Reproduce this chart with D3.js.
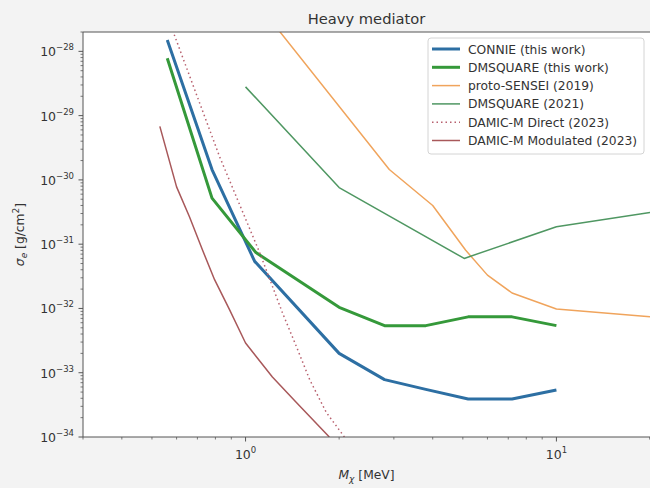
<!DOCTYPE html>
<html>
<head>
<meta charset="utf-8">
<script src="https://cdn.jsdelivr.net/npm/d3@7"></script>
<style>
  body { margin: 0; background: #f3f3f3; }
  svg { display: block; font-family: "DejaVu Sans", sans-serif; }
</style>
</head>
<body>
<div id="chart"></div>
<script>
// values (mass in MeV, cross section in g/cm^2)
const connieMass  = [0.56, 0.78, 1.07, 2.0, 2.8, 3.8, 5.2, 7.2, 10];
const connieSigma = [1.5e-28, 1.45e-30, 5.4e-32, 2.0e-33, 7.8e-34, 5.5e-34, 3.9e-34, 3.9e-34, 5.4e-34];

const dmsqMass  = [0.56, 0.78, 1.08, 2.0, 2.8, 3.8, 5.2, 7.2, 10];
const dmsqSigma = [7.8e-29, 5.2e-31, 7.4e-32, 1.04e-32, 5.4e-33, 5.4e-33, 7.4e-33, 7.4e-33, 5.4e-33];

const senseiMass  = [1.0, 2.9, 4.0, 5.1, 6.0, 7.2, 10, 20];
const senseiSigma = [9.5e-28, 1.45e-30, 4.0e-31, 8.1e-32, 3.3e-32, 1.74e-32, 9.8e-33, 7.4e-33];

const dmsq21Mass  = [1.0, 2.0, 5.05, 10, 20];
const dmsq21Sigma = [2.8e-29, 7.6e-31, 6.0e-32, 1.87e-31, 3.1e-31];

const directMass  = [0.55, 0.825, 1.11, 1.315, 1.46, 1.61, 1.82, 2.08];
const directSigma = [4.5e-28, 2.3e-30, 7.4e-32, 8.5e-33, 2.5e-33, 7.7e-34, 2.4e-34, 1.0e-34];

const modMass  = [0.53, 0.60, 0.66, 0.727, 0.795, 0.888, 1.0, 1.22, 1.46, 1.86];
const modSigma = [6.8e-30, 7.8e-31, 2.67e-31, 8.1e-32, 2.8e-32, 9.6e-33, 2.9e-33, 8.6e-34, 3.4e-34, 1.0e-34];

const yTickExps = [-34, -33, -32, -31, -30, -29, -28];
const xTickExps = [0, 1];

const series = [
    { name: "CONNIE (this work)",       x: connieMass, y: connieSigma, color: "#2d6fa3", width: 3,   dash: null },
    { name: "DMSQUARE (this work)",     x: dmsqMass,   y: dmsqSigma,   color: "#35993a", width: 3,   dash: null },
    { name: "proto-SENSEI (2019)",      x: senseiMass, y: senseiSigma, color: "#f0a45c", width: 1.5, dash: null },
    { name: "DMSQUARE (2021)",          x: dmsq21Mass, y: dmsq21Sigma, color: "#4f9762", width: 1.5, dash: null },
    { name: "DAMIC-M Direct (2023)",    x: directMass, y: directSigma, color: "#b8606e", width: 1.5, dash: "1.5,3" },
    { name: "DAMIC-M Modulated (2023)", x: modMass,    y: modSigma,    color: "#a8585a", width: 1.5, dash: null }
];

const width = 650, height = 488;
const margin = { top: 32, right: 0, bottom: 51, left: 83 };
const iw = width - margin.left - margin.right;
const ih = height - margin.top - margin.bottom;

const svg = d3.select("#chart").append("svg")
    .attr("width", width)
    .attr("height", height);

const x = d3.scaleLog().domain([0.3, 20]).range([0, iw]);
const y = d3.scaleLog().domain([1e-34, 2e-28]).range([ih, 0]);

const g = svg.append("g")
    .attr("transform", `translate(${margin.left},${margin.top})`);

g.append("rect")
    .attr("width", iw)
    .attr("height", ih)
    .attr("fill", "#fff");

svg.append("defs").append("clipPath")
    .attr("id", "clip")
    .append("rect")
    .attr("width", iw)
    .attr("height", ih);

// minor + major ticks
const xMinor = [];
[0.1, 1, 10].forEach(function(base) {
    for (let k = 2; k <= 9; k++) {
        const v = base * k;
        if (v >= 0.3 && v <= 20) xMinor.push(v);
    }
});
xMinor.push(20);
const yMinor = [];
yTickExps.forEach(function(e) {
    for (let k = 2; k <= 9; k++) {
        const v = k * Math.pow(10, e);
        if (v <= 2e-28) yMinor.push(v);
    }
});

const tickColor = "#444";

g.selectAll(".xminor")
    .data(xMinor).enter()
    .append("line")
        .attr("x1", function(d) { return x(d); })
        .attr("x2", function(d) { return x(d); })
        .attr("y1", ih)
        .attr("y2", ih + 2.5)
        .attr("stroke", tickColor)
        .attr("stroke-width", 0.7);

g.selectAll(".yminor")
    .data(yMinor).enter()
    .append("line")
        .attr("x1", -2.5)
        .attr("x2", 0)
        .attr("y1", function(d) { return y(d); })
        .attr("y2", function(d) { return y(d); })
        .attr("stroke", tickColor)
        .attr("stroke-width", 0.7);

g.selectAll(".xmajor")
    .data(xTickExps).enter()
    .append("line")
        .attr("x1", function(d) { return x(Math.pow(10, d)); })
        .attr("x2", function(d) { return x(Math.pow(10, d)); })
        .attr("y1", ih)
        .attr("y2", ih + 4.5)
        .attr("stroke", tickColor)
        .attr("stroke-width", 0.9);

g.selectAll(".ymajor")
    .data(yTickExps).enter()
    .append("line")
        .attr("x1", -4.5)
        .attr("x2", 0)
        .attr("y1", function(d) { return y(Math.pow(10, d)); })
        .attr("y2", function(d) { return y(Math.pow(10, d)); })
        .attr("stroke", tickColor)
        .attr("stroke-width", 0.9);

function powLabel(sel, exp) {
    sel.append("tspan").text("10");
    sel.append("tspan")
        .attr("dy", -6)
        .attr("font-size", 8.5)
        .text(exp < 0 ? "\u2212" + (-exp) : String(exp));
}

g.selectAll(".ylab")
    .data(yTickExps).enter()
    .append("text")
        .attr("x", -9)
        .attr("y", function(d) { return y(Math.pow(10, d)) + 5; })
        .attr("text-anchor", "end")
        .attr("font-size", 12.5)
        .attr("fill", "#333")
        .each(function(d) { powLabel(d3.select(this), d); });

g.selectAll(".xlab")
    .data(xTickExps).enter()
    .append("text")
        .attr("x", function(d) { return x(Math.pow(10, d)); })
        .attr("y", ih + 22)
        .attr("text-anchor", "middle")
        .attr("font-size", 12.5)
        .attr("fill", "#333")
        .each(function(d) { powLabel(d3.select(this), d); });

// curves
const line = d3.line()
    .x(function(d) { return x(d[0]); })
    .y(function(d) { return y(d[1]); });

g.append("g")
    .attr("clip-path", "url(#clip)")
    .selectAll("path")
    .data(series).enter()
    .append("path")
        .attr("d", function(s) { return line(s.x.map(function(v, i) { return [v, s.y[i]]; })); })
        .attr("fill", "none")
        .attr("stroke", function(s) { return s.color; })
        .attr("stroke-width", function(s) { return s.width; })
        .attr("stroke-dasharray", function(s) { return s.dash; })
        .attr("stroke-linejoin", "round");

// spines
const spine = "#555";
g.append("line").attr("x1", 0).attr("x2", 0).attr("y1", 0).attr("y2", ih)
    .attr("stroke", spine).attr("stroke-width", 1);
g.append("line").attr("x1", 0).attr("x2", iw).attr("y1", ih).attr("y2", ih)
    .attr("stroke", spine).attr("stroke-width", 1);
g.append("line").attr("x1", 0).attr("x2", iw).attr("y1", 0).attr("y2", 0)
    .attr("stroke", spine).attr("stroke-width", 1);

// legend
const legend = svg.append("g").attr("transform", "translate(428,38)");
legend.append("rect")
    .attr("width", 216)
    .attr("height", 116)
    .attr("rx", 3)
    .attr("fill", "#fff")
    .attr("fill-opacity", 0.85)
    .attr("stroke", "#d4d4d4");

const rows = legend.selectAll(".row")
    .data(series).enter()
    .append("g")
        .attr("transform", function(d, i) { return `translate(0,${11 + i * 18.3})`; });

rows.append("line")
    .attr("x1", 4)
    .attr("x2", 32)
    .attr("stroke", function(s) { return s.color; })
    .attr("stroke-width", function(s) { return s.width; })
    .attr("stroke-dasharray", function(s) { return s.dash; });

rows.append("text")
    .attr("x", 40)
    .attr("y", 4.5)
    .attr("font-size", 12.3)
    .attr("fill", "#333")
    .text(function(s) { return s.name; });

// title and axis labels
svg.append("text")
    .attr("x", margin.left + iw / 2)
    .attr("y", 24)
    .attr("text-anchor", "middle")
    .attr("font-size", 14.7)
    .attr("fill", "#333")
    .text("Heavy mediator");

const xl = svg.append("text")
    .attr("x", margin.left + iw / 2)
    .attr("y", 479)
    .attr("text-anchor", "middle")
    .attr("font-size", 12.3)
    .attr("fill", "#333");
xl.append("tspan").attr("font-style", "italic").text("M");
xl.append("tspan").attr("font-style", "italic").attr("font-size", 9).attr("dy", 3).text("\u03c7");
xl.append("tspan").attr("dy", -3).text(" [MeV]");

const yl = svg.append("text")
    .attr("transform", `translate(24,${margin.top + ih / 2}) rotate(-90)`)
    .attr("text-anchor", "middle")
    .attr("font-size", 12.3)
    .attr("fill", "#333");
yl.append("tspan").attr("font-style", "italic").text("\u03c3");
yl.append("tspan").attr("font-style", "italic").attr("font-size", 9).attr("dy", 3).text("e");
yl.append("tspan").attr("dy", -3).text(" [g/cm");
yl.append("tspan").attr("font-size", 9).attr("dy", -5).text("2");
yl.append("tspan").attr("dy", 5).text("]");
</script>
</body>
</html>
